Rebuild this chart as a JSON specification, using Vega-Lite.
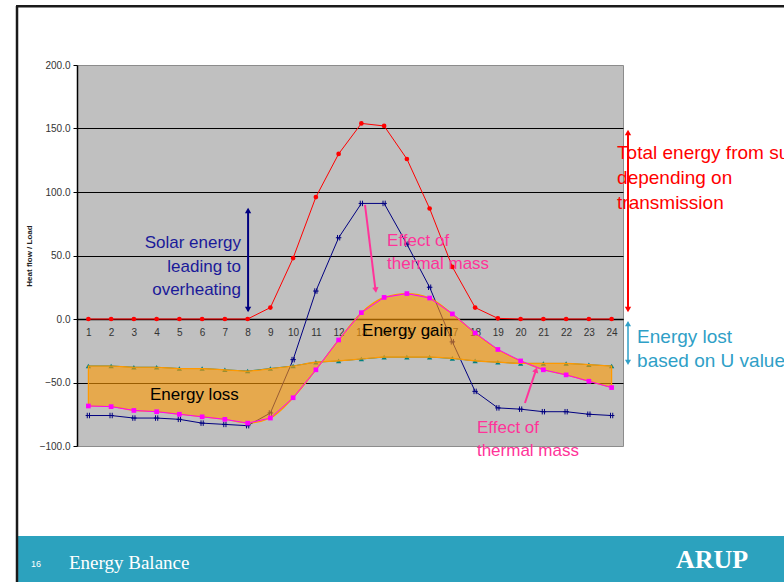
{
  "$schema": "https://vega.github.io/schema/vega-lite/v6.json",
  "autosize": {"type": "none"},
  "padding": {"left": 77, "top": 65, "right": 161, "bottom": 136},
  "width": 546,
  "height": 381,
  "background": "white",
  "config": {
    "view": {"fill": "#C0C0C0", "stroke": "#8c8c8c", "strokeWidth": 1},
    "font": "Liberation Sans",
    "axis": {"labelOverlap": false, "labelFlush": false, "ticks": true},
    "axisX": {"labelOverlap": false, "tickColor": "#000", "tickSize": 4, "tickWidth": 1, "domainColor": "#000", "domainWidth": 1.5, "labelPadding": 4, "labelFontSize": 10, "labelColor": "#333", "grid": false}
  },
  "datasets": {
    "hourly": [
      {"hour": 1, "total": 0, "trans": -76, "mass": -68.5, "uval": -37},
      {"hour": 2, "total": 0, "trans": -76, "mass": -69, "uval": -37},
      {"hour": 3, "total": 0, "trans": -78, "mass": -72, "uval": -38},
      {"hour": 4, "total": 0, "trans": -78, "mass": -73, "uval": -38},
      {"hour": 5, "total": 0, "trans": -79, "mass": -75, "uval": -39},
      {"hour": 6, "total": 0, "trans": -82, "mass": -77, "uval": -39},
      {"hour": 7, "total": 0, "trans": -83, "mass": -79, "uval": -40},
      {"hour": 8, "total": 0, "trans": -84, "mass": -82, "uval": -41},
      {"hour": 9, "total": 9, "trans": -74, "mass": -78, "uval": -39},
      {"hour": 10, "total": 48, "trans": -32, "mass": -62, "uval": -37},
      {"hour": 11, "total": 96, "trans": 22, "mass": -40, "uval": -34},
      {"hour": 12, "total": 130, "trans": 64, "mass": -16.5, "uval": -33},
      {"hour": 13, "total": 154, "trans": 91, "mass": 5, "uval": -31.5},
      {"hour": 14, "total": 152, "trans": 91, "mass": 17, "uval": -30},
      {"hour": 15, "total": 126, "trans": 59, "mass": 20, "uval": -30},
      {"hour": 16, "total": 87, "trans": 25, "mass": 16.5, "uval": -30},
      {"hour": 17, "total": 41, "trans": -18, "mass": 4, "uval": -31},
      {"hour": 18, "total": 9, "trans": -57, "mass": -11, "uval": -33},
      {"hour": 19, "total": 0.5, "trans": -70, "mass": -24, "uval": -34},
      {"hour": 20, "total": 0, "trans": -71, "mass": -33, "uval": -35},
      {"hour": 21, "total": 0, "trans": -73, "mass": -40, "uval": -35},
      {"hour": 22, "total": 0, "trans": -73, "mass": -44, "uval": -35},
      {"hour": 23, "total": 0, "trans": -75, "mass": -49, "uval": -36},
      {"hour": 24, "total": 0, "trans": -76, "mass": -54, "uval": -37}
    ]
  },
  "data": {"name": "hourly"},
  "layer": [
    {
      "mark": {"type": "line", "color": "#FF0000", "strokeWidth": 1, "point": {"shape": "circle", "filled": true, "size": 22, "color": "#FF0000"}},
      "encoding": {
        "x": {"field": "hour", "type": "quantitative", "title": null,
          "scale": {"domain": [0.5, 24.5], "nice": false, "zero": false},
          "axis": {
            "orient": "bottom", "offset": -127, "title": null, "tickCount": 100,
            "values": [1,1.5,2,2.5,3,3.5,4,4.5,5,5.5,6,6.5,7,7.5,8,8.5,9,9.5,10,10.5,11,11.5,12,12.5,13,13.5,14,14.5,15,15.5,16,16.5,17,17.5,18,18.5,19,19.5,20,20.5,21,21.5,22,22.5,23,23.5,24],
            "format": "d",
            "labelExpr": "datum.value % 1 === 0 ? datum.label : ''",
            "tickOpacity": {"condition": {"test": "datum.value % 1 !== 0", "value": 1}, "value": 0},
            "labelOverlap": false
          }},
        "y": {"field": "total", "type": "quantitative", "title": "Heat flow / Load",
          "scale": {"domain": [-100, 200], "nice": false, "zero": false},
          "axis": {
            "title": "Heat flow / Load", "titleFontSize": 8, "titleFontWeight": "bold", "titleColor": "#222", "titlePadding": 6,
            "values": [-100, -50, 0, 50, 100, 150, 200], "format": ".1f", "tickCount": 20,
            "grid": true, "gridColor": "#000", "gridWidth": 1.2,
            "gridOpacity": {"condition": {"test": "datum.value == 200 || datum.value == -100", "value": 0}, "value": 1},
            "domainColor": "#000", "domainWidth": 1.5, "tickColor": "#000", "tickSize": 4,
            "labelFontSize": 10, "labelColor": "#333", "labelPadding": 3
          }}
      }
    },
    {
      "mark": {"type": "line", "color": "#000080", "strokeWidth": 1, "point": {"shape": "M-1,0L1,0M-0.4,-1L-0.4,1M0.4,-1L0.4,1", "filled": false, "size": 30, "stroke": "#000080", "strokeWidth": 1}},
      "encoding": {
        "x": {"field": "hour", "type": "quantitative", "title": null},
        "y": {"field": "trans", "type": "quantitative", "title": "Heat flow / Load"}
      }
    },
    {
      "mark": {"type": "line", "color": "#008080", "strokeWidth": 1, "point": {"shape": "triangle-up", "filled": true, "size": 28, "color": "#008080"}},
      "encoding": {
        "x": {"field": "hour", "type": "quantitative", "title": null},
        "y": {"field": "uval", "type": "quantitative", "title": "Heat flow / Load"}
      }
    },
    {
      "mark": {"type": "area", "color": "#FF9900", "fillOpacity": 0.6, "stroke": "#FF9900", "strokeWidth": 1.2, "interpolate": "monotone"},
      "encoding": {
        "x": {"field": "hour", "type": "quantitative", "title": null},
        "y": {"field": "mass", "type": "quantitative", "title": "Heat flow / Load"},
        "y2": {"field": "uval"}
      }
    },
    {
      "mark": {"type": "line", "color": "#FF00FF", "strokeWidth": 1, "point": {"shape": "square", "filled": true, "size": 22, "color": "#FF00FF"}},
      "encoding": {
        "x": {"field": "hour", "type": "quantitative", "title": null},
        "y": {"field": "mass", "type": "quantitative", "title": "Heat flow / Load"}
      }
    },
    {
      "data": {"values": [{}]},
      "layer": [
        {"mark": {"type": "rect", "color": "#2CA2BE", "clip": false},
         "encoding": {"x": {"datum": -2.09, "type": "quantitative"}, "x2": {"datum": 32}, "y": {"datum": -170.9, "type": "quantitative"}, "y2": {"datum": -212}}},
        {"mark": {"type": "rule", "color": "#1a1a1a", "strokeWidth": 2.5, "clip": false},
         "encoding": {"x": {"datum": -2.137, "type": "quantitative"}, "y": {"datum": 246.5, "type": "quantitative"}, "y2": {"datum": -212}}},
        {"mark": {"type": "rule", "color": "#1a1a1a", "strokeWidth": 2.5, "clip": false},
         "encoding": {"x": {"datum": -2.18, "type": "quantitative"}, "x2": {"datum": 32}, "y": {"datum": 246.3, "type": "quantitative"}}},
        {"mark": {"type": "text", "text": "16", "font": "Liberation Sans", "fontSize": 9, "color": "white", "align": "center", "baseline": "middle", "clip": false},
         "encoding": {"x": {"datum": -1.3, "type": "quantitative"}, "y": {"datum": -192.9, "type": "quantitative"}}},
        {"mark": {"type": "text", "text": "Energy Balance", "font": "Liberation Serif", "fontSize": 19, "color": "white", "align": "left", "baseline": "middle", "clip": false},
         "encoding": {"x": {"datum": 0.148, "type": "quantitative"}, "y": {"datum": -192.1, "type": "quantitative"}}},
        {"mark": {"type": "text", "text": "ARUP", "font": "Liberation Serif", "fontSize": 26, "fontWeight": "bold", "color": "white", "align": "left", "baseline": "middle", "clip": false},
         "encoding": {"x": {"datum": 26.83, "type": "quantitative"}, "y": {"datum": -189.8, "type": "quantitative"}}},

        {"mark": {"type": "rule", "color": "#000080", "strokeWidth": 2, "clip": false},
         "encoding": {"x": {"datum": 8.02, "type": "quantitative"}, "y": {"datum": 86, "type": "quantitative"}, "y2": {"datum": 6.5}}},
        {"mark": {"type": "point", "shape": "triangle-up", "filled": true, "size": 40, "color": "#000080", "opacity": 1, "clip": false},
         "encoding": {"x": {"datum": 8.02, "type": "quantitative"}, "y": {"datum": 85.4, "type": "quantitative"}}},
        {"mark": {"type": "point", "shape": "triangle-down", "filled": true, "size": 40, "color": "#000080", "opacity": 1, "clip": false},
         "encoding": {"x": {"datum": 8.02, "type": "quantitative"}, "y": {"datum": 7.5, "type": "quantitative"}}},

        {"mark": {"type": "rule", "color": "#FF0000", "strokeWidth": 2, "clip": false},
         "encoding": {"x": {"datum": 24.72, "type": "quantitative"}, "y": {"datum": 146, "type": "quantitative"}, "y2": {"datum": 7}}},
        {"mark": {"type": "point", "shape": "triangle-up", "filled": true, "size": 40, "color": "#FF0000", "opacity": 1, "clip": false},
         "encoding": {"x": {"datum": 24.72, "type": "quantitative"}, "y": {"datum": 146.8, "type": "quantitative"}}},
        {"mark": {"type": "point", "shape": "triangle-down", "filled": true, "size": 40, "color": "#FF0000", "opacity": 1, "clip": false},
         "encoding": {"x": {"datum": 24.72, "type": "quantitative"}, "y": {"datum": 7.5, "type": "quantitative"}}},

        {"mark": {"type": "rule", "color": "#2F9FC7", "strokeWidth": 1.5, "clip": false},
         "encoding": {"x": {"datum": 24.72, "type": "quantitative"}, "y": {"datum": -3, "type": "quantitative"}, "y2": {"datum": -34.5}}},
        {"mark": {"type": "point", "shape": "triangle-up", "filled": true, "size": 36, "color": "#2F9FC7", "opacity": 1, "clip": false},
         "encoding": {"x": {"datum": 24.72, "type": "quantitative"}, "y": {"datum": -3.6, "type": "quantitative"}}},
        {"mark": {"type": "point", "shape": "triangle-down", "filled": true, "size": 36, "color": "#2F9FC7", "opacity": 1, "clip": false},
         "encoding": {"x": {"datum": 24.72, "type": "quantitative"}, "y": {"datum": -34.2, "type": "quantitative"}}},

        {"mark": {"type": "rule", "color": "#FF3399", "strokeWidth": 2, "clip": false},
         "encoding": {"x": {"datum": 13.16, "type": "quantitative"}, "y": {"datum": 89.8, "type": "quantitative"}, "x2": {"datum": 13.62}, "y2": {"datum": 23}}},
        {"mark": {"type": "point", "shape": "triangle-down", "angle": -7, "filled": true, "size": 40, "color": "#FF3399", "opacity": 1, "clip": false},
         "encoding": {"x": {"datum": 13.63, "type": "quantitative"}, "y": {"datum": 22.8, "type": "quantitative"}}},
        {"mark": {"type": "rule", "color": "#FF3399", "strokeWidth": 2, "clip": false},
         "encoding": {"x": {"datum": 20.19, "type": "quantitative"}, "y": {"datum": -66.1, "type": "quantitative"}, "x2": {"datum": 20.67}, "y2": {"datum": -40.5}}},
        {"mark": {"type": "point", "shape": "triangle-up", "angle": 18, "filled": true, "size": 40, "color": "#FF3399", "opacity": 1, "clip": false},
         "encoding": {"x": {"datum": 20.68, "type": "quantitative"}, "y": {"datum": -40.0, "type": "quantitative"}}},

        {"mark": {"type": "text", "text": ["Solar energy", "leading to", "overheating"], "font": "Liberation Sans", "fontSize": 17, "lineHeight": 23.5, "color": "#1a1a99", "align": "right", "baseline": "middle", "clip": false},
         "encoding": {"x": {"datum": 7.71, "type": "quantitative"}, "y": {"datum": 59.8, "type": "quantitative"}}},
        {"mark": {"type": "text", "text": ["Effect of", "thermal mass"], "font": "Liberation Sans", "fontSize": 17, "lineHeight": 23, "color": "#FF3399", "align": "left", "baseline": "middle", "clip": false},
         "encoding": {"x": {"datum": 14.13, "type": "quantitative"}, "y": {"datum": 61.4, "type": "quantitative"}}},
        {"mark": {"type": "text", "text": ["Total energy from sun", "depending on", "transmission"], "font": "Liberation Sans", "fontSize": 19, "lineHeight": 25, "color": "#FF0000", "align": "left", "baseline": "middle", "clip": false},
         "encoding": {"x": {"datum": 24.24, "type": "quantitative"}, "y": {"datum": 130.7, "type": "quantitative"}}},
        {"mark": {"type": "text", "text": ["Energy lost", "based on U value"], "font": "Liberation Sans", "fontSize": 19, "lineHeight": 24, "color": "#2F9FC7", "align": "left", "baseline": "middle", "clip": false},
         "encoding": {"x": {"datum": 25.12, "type": "quantitative"}, "y": {"datum": -14.2, "type": "quantitative"}}},
        {"mark": {"type": "text", "text": "Energy gain", "font": "Liberation Sans", "fontSize": 17, "color": "#000000", "align": "left", "baseline": "middle", "clip": false},
         "encoding": {"x": {"datum": 13.03, "type": "quantitative"}, "y": {"datum": -9.4, "type": "quantitative"}}},
        {"mark": {"type": "text", "text": "Energy loss", "font": "Liberation Sans", "fontSize": 17, "color": "#000000", "align": "left", "baseline": "middle", "clip": false},
         "encoding": {"x": {"datum": 3.71, "type": "quantitative"}, "y": {"datum": -59.8, "type": "quantitative"}}},
        {"mark": {"type": "text", "text": ["Effect of", "thermal mass"], "font": "Liberation Sans", "fontSize": 17, "lineHeight": 23, "color": "#FF3399", "align": "left", "baseline": "middle", "clip": false},
         "encoding": {"x": {"datum": 18.08, "type": "quantitative"}, "y": {"datum": -85.8, "type": "quantitative"}}}
      ]
    }
  ]
}
